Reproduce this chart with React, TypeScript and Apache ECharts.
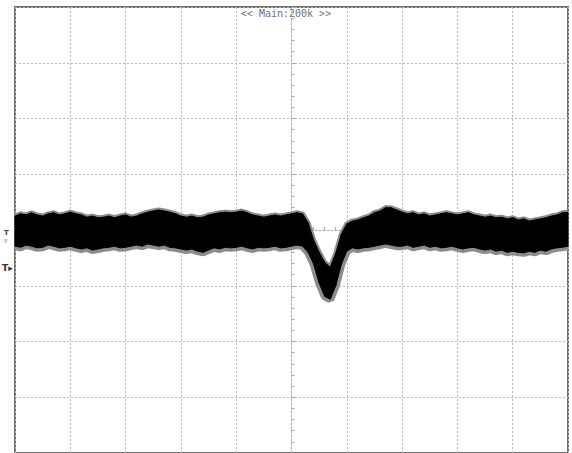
import React, { useEffect, useRef } from "react";
import * as echarts from "echarts";

// Time axis in divisions (-5 .. 5), 0.1 div sampling
const times: number[] = Array.from({ length: 101 }, (_, i) => Math.round((-5 + i * 0.1) * 10) / 10);

// Upper envelope of the trace (divisions)
const upper: number[] = [
  0.25, 0.29, 0.27, 0.31, 0.27, 0.25, 0.29, 0.31, 0.27, 0.29,
  0.32, 0.29, 0.27, 0.23, 0.25, 0.22, 0.23, 0.25, 0.22, 0.25,
  0.27, 0.23, 0.25, 0.29, 0.32, 0.34, 0.36, 0.34, 0.32, 0.29,
  0.25, 0.23, 0.25, 0.22, 0.23, 0.27, 0.29, 0.31, 0.32, 0.31,
  0.32, 0.34, 0.31, 0.27, 0.25, 0.23, 0.25, 0.27, 0.25, 0.27,
  0.29, 0.31, 0.29,
  0.13, -0.18, -0.40, -0.58, -0.67, -0.42, -0.08, 0.11, 0.16, 0.18, 0.22, 0.25, 0.31, 0.34, 0.40, 0.40, 0.36, 0.32,
  0.29, 0.31, 0.27, 0.29, 0.25, 0.27, 0.29, 0.31, 0.29, 0.27,
  0.29, 0.31, 0.27, 0.25, 0.23, 0.25, 0.22, 0.23, 0.20, 0.22,
  0.18, 0.20, 0.16, 0.18, 0.20, 0.22, 0.25, 0.27, 0.31, 0.32,
];

// Lower envelope of the trace (divisions)
const lower: number[] = [
  -0.29, -0.31, -0.27, -0.29, -0.32, -0.31, -0.27, -0.29, -0.32, -0.31,
  -0.29, -0.32, -0.34, -0.32, -0.36, -0.34, -0.32, -0.31, -0.29, -0.32,
  -0.31, -0.29, -0.27, -0.29, -0.25, -0.27, -0.29, -0.27, -0.31, -0.32,
  -0.34, -0.36, -0.34, -0.38, -0.40, -0.36, -0.32, -0.34, -0.31, -0.32,
  -0.31, -0.29, -0.32, -0.34, -0.31, -0.32, -0.31, -0.29, -0.32, -0.31,
  -0.29, -0.27, -0.29,
  -0.40, -0.61, -0.95, -1.19, -1.24, -1.00, -0.62, -0.38,
  -0.32, -0.34, -0.32, -0.31, -0.29, -0.27, -0.25, -0.27, -0.29, -0.29,
  -0.27, -0.31, -0.29, -0.27, -0.31, -0.29, -0.32, -0.31, -0.29, -0.32,
  -0.34, -0.32, -0.31, -0.34, -0.36, -0.34, -0.38, -0.36, -0.40, -0.38,
  -0.40, -0.41, -0.38, -0.40, -0.36, -0.38, -0.34, -0.32, -0.31, -0.29,
];

const titleText = "<< Main:200k >>";

export default function App() {
  const ref = useRef<HTMLDivElement>(null);

  useEffect(() => {
    if (!ref.current) return;
    const chart = echarts.init(ref.current, undefined, { renderer: "svg" });

    const upperPts = times.map((t, i) => [t, upper[i]]);
    const lowerPts = times.map((t, i) => [t, lower[i]]);
    const bandData = times.map((t, i) => [t, upper[i], lower[i]]);

    const gridLine = { show: true, lineStyle: { color: "#b8b8b8", type: [2, 2] as any, width: 1 } };

    chart.setOption({
      animation: false,
      backgroundColor: "#ffffff",
      grid: {
        left: 15,
        right: 4,
        top: 7,
        bottom: -1,
        show: true,
        borderColor: "#6e6e6e",
        borderWidth: 2,
        backgroundColor: "#ffffff",
      },
      xAxis: {
        type: "value",
        min: -5,
        max: 5,
        interval: 1,
        axisLabel: { show: false },
        axisLine: { show: true, onZero: true, lineStyle: { color: "#a8a8a8", type: [2, 2] as any } },
        axisTick: { show: true, inside: true, length: 4, lineStyle: { color: "#a8a8a8" } },
        minorTick: { show: true, splitNumber: 5, length: 3, lineStyle: { color: "#a8a8a8" } },
        splitLine: gridLine,
      },
      yAxis: {
        type: "value",
        min: -4,
        max: 4,
        interval: 1,
        axisLabel: { show: false },
        axisLine: { show: true, onZero: true, lineStyle: { color: "#a8a8a8", type: [2, 2] as any } },
        axisTick: { show: true, inside: true, length: 4, lineStyle: { color: "#a8a8a8" } },
        minorTick: { show: true, splitNumber: 5, length: 3, lineStyle: { color: "#a8a8a8" } },
        splitLine: gridLine,
      },
      series: [
        {
          name: "upperHalo",
          type: "line",
          data: upperPts,
          symbol: "none",
          silent: true,
          z: 3,
          lineStyle: { color: "#8c8c8c", width: 5 },
        },
        {
          name: "lowerHalo",
          type: "line",
          data: lowerPts,
          symbol: "none",
          silent: true,
          z: 3,
          lineStyle: { color: "#8c8c8c", width: 8 },
        },
        {
          name: "band",
          type: "custom",
          data: bandData,
          silent: true,
          z: 5,
          renderItem: (params: any, api: any) => {
            const i = params.dataIndex;
            if (i >= bandData.length - 1) return null;
            const a = bandData[i];
            const b = bandData[i + 1];
            const p1 = api.coord([a[0], a[1]]);
            const p2 = api.coord([b[0], b[1]]);
            const p3 = api.coord([b[0], b[2]]);
            const p4 = api.coord([a[0], a[2]]);
            return {
              type: "polygon",
              shape: { points: [p1, p2, p3, p4] },
              style: { fill: "#000000", stroke: "#000000", lineWidth: 1 },
            };
          },
        },
      ],
      graphic: [
        {
          type: "text",
          left: "center",
          top: 8,
          style: {
            text: titleText,
            fill: "#707070",
            font: "10px 'DejaVu Sans Mono', monospace",
          },
        },
        {
          type: "text",
          left: 4,
          top: 229,
          style: {
            text: "T\n▿",
            fill: "#404040",
            font: "bold 7px 'DejaVu Sans', sans-serif",
            lineHeight: 8,
          },
        },
        {
          type: "text",
          left: 2,
          top: 263,
          style: { text: "T▸", fill: "#303030", font: "bold 9px 'DejaVu Sans', sans-serif" },
        },
      ],
    });

    return () => chart.dispose();
  }, []);

  return (
    <div
      ref={ref}
      style={{ position: "fixed", left: 0, top: 0, width: 572, height: 453 }}
    />
  );
}
